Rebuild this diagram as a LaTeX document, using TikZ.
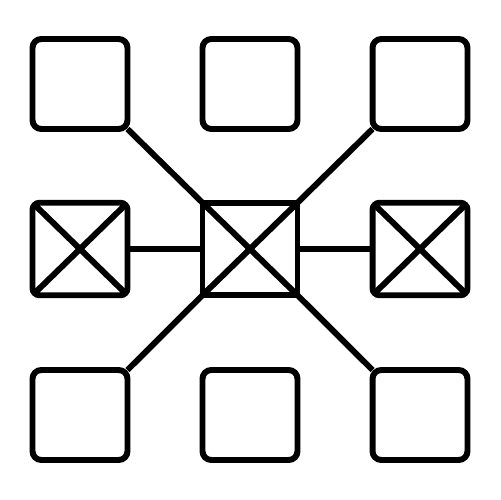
\documentclass[tikz,border=0pt]{standalone}
\begin{document}
\begin{tikzpicture}[x=0.02cm,y=-0.02cm,
  box/.style={draw=black,line width=3.4pt,rounded corners=5pt,inner sep=0pt,outer sep=0pt,minimum width=1.9cm,minimum height=1.8cm},
  xbox/.style={draw=black,line width=3.4pt,rounded corners=4pt,inner sep=0pt,outer sep=0pt,minimum width=1.9cm,minimum height=1.85cm},
  cbox/.style={draw=black,line width=3.4pt,inner sep=0pt,outer sep=0pt,minimum width=1.9cm,minimum height=1.85cm},
  link/.style={draw=black,line width=3.4pt}]
\useasboundingbox (0,0) rectangle (500,500);
\node[box] (tl) at (80,84) {};
\node[box] (tm) at (250,84) {};
\node[box] (tr) at (420,84) {};
\node[xbox] (ml) at (80,249) {};
\node[cbox] (mc) at (250,249) {};
\node[xbox] (mr) at (420,249) {};
\node[box] (bl) at (80,415) {};
\node[box] (bm) at (250,415) {};
\node[box] (br) at (420,415) {};
\foreach \n in {ml,mc,mr}{
  \draw[link,shorten <=0.5pt,shorten >=0.5pt] (\n.north west) -- (\n.south east);
  \draw[link,shorten <=0.5pt,shorten >=0.5pt] (\n.north east) -- (\n.south west);
}
\draw[link] (tl.south east) -- (mc.north west);
\draw[link] (tr.south west) -- (mc.north east);
\draw[link] (bl.north east) -- (mc.south west);
\draw[link] (br.north west) -- (mc.south east);
\draw[link] (ml.east) -- (mc.west);
\draw[link] (mc.east) -- (mr.west);
\end{tikzpicture}
\end{document}
